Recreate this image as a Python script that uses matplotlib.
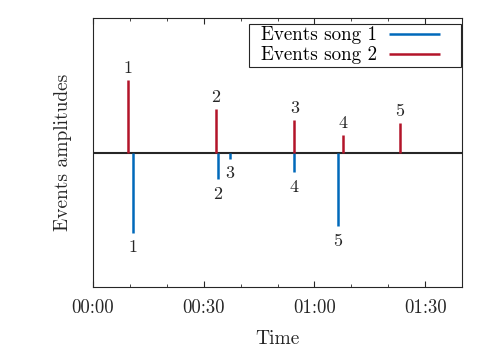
import matplotlib
matplotlib.use("Agg")
import matplotlib.pyplot as plt
from matplotlib.ticker import MultipleLocator, FuncFormatter
from matplotlib.patches import Rectangle

plt.rcParams['font.family'] = ['cmr10', 'DejaVu Serif']
plt.rcParams['axes.formatter.use_mathtext'] = True

# Data (time in seconds, amplitudes)
song1_times = [10.9, 33.9, 37.0, 54.6, 66.4]
song1_amps = [-0.60, -0.20, -0.047, -0.148, -0.55]
song1_labels = ["1", "2", "3", "4", "5"]
song2_times = [9.5, 33.3, 54.6, 67.8, 83.2]
song2_amps = [0.54, 0.325, 0.24, 0.127, 0.22]
song2_labels = ["1", "2", "3", "4", "5"]

blue = (0.0, 0.41, 0.73)
red = (0.70, 0.08, 0.16)
W, H = 498, 349

fig = plt.figure(figsize=(W/100, H/100), dpi=100)
ax = fig.add_axes([93/W, 1-287/H, (462-93)/W, (287-18)/H])

ax.axhline(0, color='#262626', lw=1.5, zorder=1)
ax.vlines(song1_times, 0, song1_amps, color=blue, lw=1.8, label='Events song 1', zorder=2)
ax.vlines(song2_times, 0, song2_amps, color=red, lw=1.8, label='Events song 2', zorder=2)

for t, a, l in zip(song1_times, song1_amps, song1_labels):
    ax.annotate(l, (t, a), xytext=(0, -5), textcoords='offset points',
                ha='center', va='top', fontsize=13, color='#262626')
for t, a, l in zip(song2_times, song2_amps, song2_labels):
    ax.annotate(l, (t, a), xytext=(0, 3), textcoords='offset points',
                ha='center', va='bottom', fontsize=13, color='#262626')

ax.set_xlim(0, 100)
ax.set_ylim(-1, 1)
ax.xaxis.set_major_locator(MultipleLocator(30))
ax.xaxis.set_minor_locator(MultipleLocator(10))
ax.xaxis.set_major_formatter(FuncFormatter(lambda v, p: f"{int(v)//60:02d}:{int(v)%60:02d}"))
ax.set_yticks([])
ax.tick_params(axis='x', which='both', direction='in', top=True, labelsize=13.5,
               colors='#262626', pad=9)
ax.tick_params(axis='x', which='major', length=4)
ax.tick_params(axis='x', which='minor', length=2)
for s in ax.spines.values():
    s.set_color('#262626')
    s.set_linewidth(0.8)

ax.set_xlabel('Time', fontsize=14, color='#262626', labelpad=9)
ax.set_ylabel('Events amplitudes', fontsize=14, color='#262626', labelpad=15)

# legend: text first, line after; frame drawn with asymmetric padding
pad_l, pad_r, pad_v = 12, 21, 2.5
leg = ax.legend(loc='upper right', markerfirst=False, fontsize=13.7, frameon=False,
                handlelength=2.7, labelspacing=0.09, borderpad=0.0, handletextpad=0.6,
                bbox_to_anchor=((461 - pad_r)/W, 1 - (24 + pad_v)/H),
                bbox_transform=fig.transFigure, borderaxespad=0)
fig.canvas.draw()
bb = leg.get_window_extent()
x0, y0 = bb.x0 - pad_l, bb.y0 - pad_v
x1, y1 = bb.x1 + pad_r, bb.y1 + pad_v
fig.patches.append(Rectangle((x0/W, y0/H), (x1-x0)/W, (y1-y0)/H, transform=fig.transFigure,
                             fill=True, facecolor='white', edgecolor='#262626', lw=0.8,
                             zorder=2.5))
leg.set_zorder(5)
leg.remove()
fig.legends.append(leg)
leg.set_figure(fig)

fig.savefig('out.png', dpi=100)
